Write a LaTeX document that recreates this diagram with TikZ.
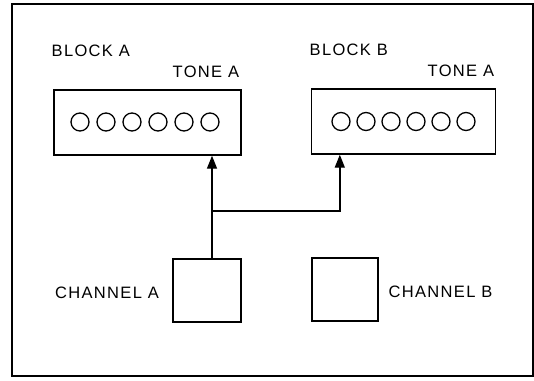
\documentclass[tikz,border=0pt]{standalone}
\usepackage{fontspec}
\setmainfont{Liberation Sans}[LetterSpace=8]
\usetikzlibrary{arrows.meta}
\begin{document}
\begin{tikzpicture}[x=1pt,y=-1pt,line width=1.4pt,
  every node/.style={font=\fontsize{16.5}{19}\selectfont},
  box/.style={draw,line width=1.4pt,inner sep=0pt},
  lamp/.style={draw,circle,line width=1.3pt,minimum size=18pt,inner sep=0pt},
  lbl/.style={anchor=base west,inner sep=0pt},
  arr/.style={-{Triangle[length=13pt,width=10pt]}}]
\useasboundingbox (0,0) rectangle (534,380);
% frame
\draw[line width=1.5pt] (12,4) rectangle (533,376);
% blocks
\node[box,minimum width=187pt,minimum height=65pt] (blkA) at (147.5,122.5) {};
\node[box,minimum width=184pt,minimum height=65pt] (blkB) at (403.5,121.5) {};
\foreach \i in {0,...,5} {
  \node[lamp] (la\i) at (80+26*\i,122) {};
  \node[lamp] (lb\i) at (341+25*\i,121.5) {};
}
\node[lbl] (nameA) at (51,56) {BLOCK A};
\node[lbl] (toneA) at (172,77) {TONE A};
\node[lbl] (nameB) at (309,55.5) {BLOCK B};
\node[lbl] (toneB) at (427,76.5) {TONE A};
% channels
\node[box,minimum width=68pt,minimum height=63pt] (chA) at (207,290.5) {};
\node[box,minimum width=66pt,minimum height=63pt] (chB) at (345,289.5) {};
\node[lbl] (chnA) at (54.5,298) {CHANNEL A};
\node[lbl] (chnB) at (388,297) {CHANNEL B};
% connections
\coordinate (jn) at (212,211);
\draw[arr] (chA.north -| jn) -- (blkA.south -| jn);
\draw[arr] (jn) -| ([xshift=29pt]blkB.south west);
\end{tikzpicture}
\end{document}
